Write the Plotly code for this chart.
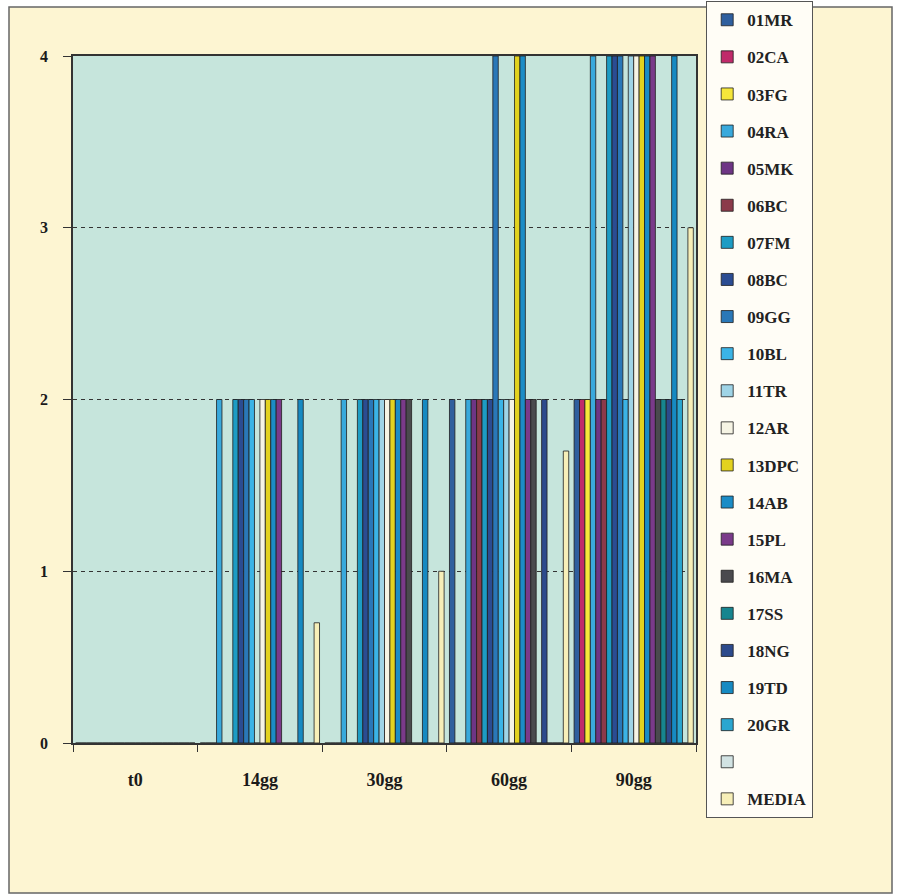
import plotly.graph_objects as go

categories = ["t0", "14gg", "30gg", "60gg", "90gg"]

series_names = ["01MR", "02CA", "03FG", "04RA", "05MK", "06BC", "07FM", "08BC", "09GG", "10BL",
                "11TR", "12AR", "13DPC", "14AB", "15PL", "16MA", "17SS", "18NG", "19TD", "20GR",
                " ", "MEDIA"]

v01MR = [0, 0, 0, 2, 2]
v02CA = [0, 0, 0, 0, 2]
v03FG = [0, 0, 0, 0, 2]
v04RA = [0, 2, 2, 2, 4]
v05MK = [0, 0, 0, 2, 2]
v06BC = [0, 0, 0, 2, 2]
v07FM = [0, 2, 2, 2, 4]
v08BC = [0, 2, 2, 2, 4]
v09GG = [0, 2, 2, 4, 4]
v10BL = [0, 2, 2, 2, 2]
v11TR = [0, 0, 2, 2, 4]
v12AR = [0, 2, 2, 2, 4]
v13DPC = [0, 2, 2, 4, 4]
v14AB = [0, 2, 2, 4, 4]
v15PL = [0, 2, 2, 2, 4]
v16MA = [0, 0, 2, 2, 2]
v17SS = [0, 0, 0, 0, 2]
v18NG = [0, 0, 0, 2, 2]
v19TD = [0, 2, 2, 0, 4]
v20GR = [0, 0, 0, 0, 2]
vBLANK = [0, 0, 0, 0, 0]
vMEDIA = [0, 0.7, 1.0, 1.7, 3.0]

series_values = [v01MR, v02CA, v03FG, v04RA, v05MK, v06BC, v07FM, v08BC, v09GG, v10BL,
                 v11TR, v12AR, v13DPC, v14AB, v15PL, v16MA, v17SS, v18NG, v19TD, v20GR,
                 vBLANK, vMEDIA]

series_colors = ["#2f5f9e", "#c02a6a", "#f5e63a", "#39a9dc", "#6e3585", "#8b3a4a", "#1d9cc4",
                 "#2b4c92", "#2a78b8", "#3bb4e6", "#9fd4e6", "#f6f4e4", "#e3d21f", "#1b8cc6",
                 "#7a3a8a", "#4a4a4e", "#17858f", "#2c4a8c", "#168ac2", "#2aa6d0", "#d2e3e3",
                 "#f7efb8"]

y_ticks = [0, 1, 2, 3, 4]

W, H = 900, 896
PL, PR, PT, PB = 73, 696, 56, 743  # plot area in pixels


def px_x(p):
    return (p - PL) / (PR - PL)


def px_y(p):
    return (PB - p) / (PB - PT)


SERIF = "Liberation Serif"

fig = go.Figure()
for name, vals, col in zip(series_names, series_values, series_colors):
    fig.add_trace(go.Bar(
        x=categories, y=vals, name=name, legendgroup=name,
        marker=dict(color=col, line=dict(color="#1e1e1e", width=0.8)),
    ))

fig.update_layout(
    width=W, height=H,
    barmode="group", bargap=0.043, bargroupgap=0,
    paper_bgcolor="white",
    plot_bgcolor="#c6e5dc",
    margin=dict(l=PL, r=W - PR, t=PT, b=H - PB, pad=0, autoexpand=False),
    font=dict(family=SERIF, color="#1a1a1a"),
    showlegend=True,
    legend=dict(
        x=px_x(706), y=px_y(1), xanchor="left", yanchor="top",
        bgcolor="#fffdf6", bordercolor="#555", borderwidth=1.2,
        font=dict(family=SERIF, size=17, color="#222", weight="bold"),
        tracegroupgap=12,
        traceorder="grouped",
        maxheight=890,
    ),
    xaxis=dict(
        type="category",
        tickson="boundaries", ticks="outside", ticklen=7, tickcolor="#333", tickwidth=1.2,
        showline=True, linecolor="#333", linewidth=1.5, mirror=True,
        showgrid=False,
        tickfont=dict(family=SERIF, size=18, color="#1a1a1a", weight="bold"),
        ticklabelstandoff=20,
    ),
    yaxis=dict(
        range=[0, 4], tickvals=y_ticks, ticktext=[str(v) for v in y_ticks],
        ticks="outside", ticklen=8, tickcolor="#333", tickwidth=1.2,
        showline=True, linecolor="#333", linewidth=1.5, mirror=True,
        showgrid=True, gridcolor="#333", gridwidth=1, griddash="4px,4px",
        zeroline=False,
        tickfont=dict(family=SERIF, size=16, color="#1a1a1a", weight="bold"),
        ticklabelstandoff=12,
    ),
    shapes=[
        dict(type="rect", xref="paper", yref="paper",
             x0=px_x(9), x1=px_x(892), y0=px_y(893), y1=px_y(7),
             fillcolor="#fdf5d2", line=dict(color="#666", width=1.5), layer="below"),
        dict(type="rect", xref="paper", yref="paper",
             x0=0, x1=1, y0=0, y1=1,
             fillcolor="#c6e5dc", line=dict(width=0), layer="below"),
    ],
)

fig.write_html("out.html")
